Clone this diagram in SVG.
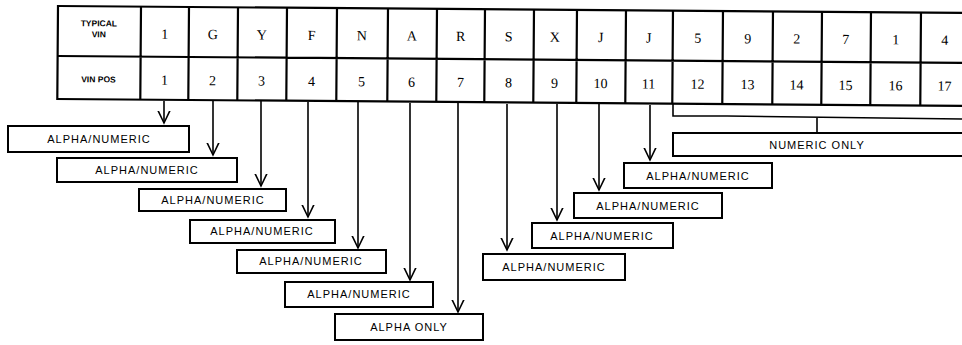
<svg xmlns="http://www.w3.org/2000/svg" width="962" height="345" viewBox="0 0 962 345">
<style>
  .grid { fill: none; stroke: #000; stroke-width: 2.2; }
  .cell { font-family: "Liberation Serif", serif; font-size: 14px; fill: #000; text-anchor: middle; }
  .hdr { font-family: "Liberation Sans", sans-serif; font-size: 8.5px; font-weight: bold; fill: #000; text-anchor: middle; }
  .box { fill: #fff; stroke: #000; stroke-width: 2; }
  .lbl { font-family: "Liberation Sans", sans-serif; font-size: 11px; fill: #000; text-anchor: middle; letter-spacing: 1px; }
  .conn { fill: none; stroke: #000; stroke-width: 1.6; }
</style>
<defs>
  <marker id="ah" viewBox="0 0 14 14" refX="12.5" refY="7" markerWidth="14" markerHeight="14" orient="auto" markerUnits="userSpaceOnUse">
    <path d="M0,1 L12.5,7 L0,13" fill="none" stroke="#000" stroke-width="1.6"/>
  </marker>
</defs>
<rect width="962" height="345" fill="#fff"/>

<g id="vin-table" transform="rotate(0.43 58 6)">
  <rect class="grid" x="58" y="6" width="912" height="93"/>
  <path class="grid" d="M58,56 H970 M141,6 V99 M189,6 V99 M238,6 V99 M287,6 V99 M337,6 V99 M388,6 V99 M437,6 V99 M485,6 V99 M534,6 V99 M577,6 V99 M626,6 V99 M673,6 V99 M723,6 V99 M773,6 V99 M822,6 V99 M871,6 V99 M921,6 V99"/>
  <text class="hdr" x="99" y="26">TYPICAL</text>
  <text class="hdr" x="99" y="37">VIN</text>
  <text class="hdr" x="99" y="82">VIN POS</text>
  <g class="cell">
    <text x="165" y="38">1</text><text x="213" y="38">G</text><text x="262" y="38">Y</text><text x="312" y="38">F</text>
    <text x="362" y="38">N</text><text x="412" y="38">A</text><text x="461" y="38">R</text><text x="509" y="38">S</text>
    <text x="555" y="38">X</text><text x="601" y="38">J</text><text x="649" y="38">J</text><text x="698" y="38">5</text>
    <text x="748" y="38">9</text><text x="797" y="38">2</text><text x="846" y="38">7</text><text x="896" y="38">1</text>
    <text x="945" y="38">4</text>
    <text x="165" y="84">1</text><text x="213" y="84">2</text><text x="262" y="84">3</text><text x="312" y="84">4</text>
    <text x="362" y="84">5</text><text x="412" y="84">6</text><text x="461" y="84">7</text><text x="509" y="84">8</text>
    <text x="555" y="84">9</text><text x="601" y="84">10</text><text x="649" y="84">11</text><text x="698" y="84">12</text>
    <text x="748" y="84">13</text><text x="797" y="84">14</text><text x="846" y="84">15</text><text x="896" y="84">16</text>
    <text x="945" y="84">17</text>
  </g>
</g>

<g id="connectors">
  <path class="conn" marker-end="url(#ah)" d="M164,101 V123"/>
  <path class="conn" marker-end="url(#ah)" d="M213,101 V155"/>
  <path class="conn" marker-end="url(#ah)" d="M261,101 V186"/>
  <path class="conn" marker-end="url(#ah)" d="M308,102 V217"/>
  <path class="conn" marker-end="url(#ah)" d="M358,102 V248"/>
  <path class="conn" marker-end="url(#ah)" d="M410,103 V280"/>
  <path class="conn" marker-end="url(#ah)" d="M458,103 V312"/>
  <path class="conn" marker-end="url(#ah)" d="M507,104 V250"/>
  <path class="conn" marker-end="url(#ah)" d="M557,104 V220"/>
  <path class="conn" marker-end="url(#ah)" d="M599,104 V190"/>
  <path class="conn" marker-end="url(#ah)" d="M650,105 V160"/>
  <path class="conn" stroke-width="2" d="M673,104 V116 H727 L962,119"/>
  <path class="conn" stroke-width="2" d="M817,118 V133"/>
</g>

<g id="pos1"><rect class="box" x="8" y="126" width="181" height="26"/><text class="lbl" x="99" y="143">ALPHA/NUMERIC</text></g>
<g id="pos2"><rect class="box" x="57" y="158" width="180" height="24"/><text class="lbl" x="147" y="174">ALPHA/NUMERIC</text></g>
<g id="pos3"><rect class="box" x="139" y="189" width="147" height="22"/><text class="lbl" x="213" y="204">ALPHA/NUMERIC</text></g>
<g id="pos4"><rect class="box" x="190" y="220" width="145" height="23"/><text class="lbl" x="262" y="235">ALPHA/NUMERIC</text></g>
<g id="pos5"><rect class="box" x="237" y="250" width="149" height="23"/><text class="lbl" x="311" y="265">ALPHA/NUMERIC</text></g>
<g id="pos6"><rect class="box" x="285" y="282" width="148" height="25"/><text class="lbl" x="359" y="298">ALPHA/NUMERIC</text></g>
<g id="pos7"><rect class="box" x="335" y="314" width="148" height="26"/><text class="lbl" x="409" y="331">ALPHA ONLY</text></g>
<g id="pos8"><rect class="box" x="483" y="254" width="142" height="26"/><text class="lbl" x="554" y="271">ALPHA/NUMERIC</text></g>
<g id="pos9"><rect class="box" x="532" y="223" width="141" height="25"/><text class="lbl" x="602" y="240">ALPHA/NUMERIC</text></g>
<g id="pos10"><rect class="box" x="574" y="193" width="148" height="25"/><text class="lbl" x="648" y="210">ALPHA/NUMERIC</text></g>
<g id="pos11"><rect class="box" x="624" y="163" width="148" height="25"/><text class="lbl" x="698" y="180">ALPHA/NUMERIC</text></g>
<g id="pos12-17"><rect class="box" x="673" y="133" width="300" height="23"/><text class="lbl" x="817" y="149">NUMERIC ONLY</text></g>
</svg>
